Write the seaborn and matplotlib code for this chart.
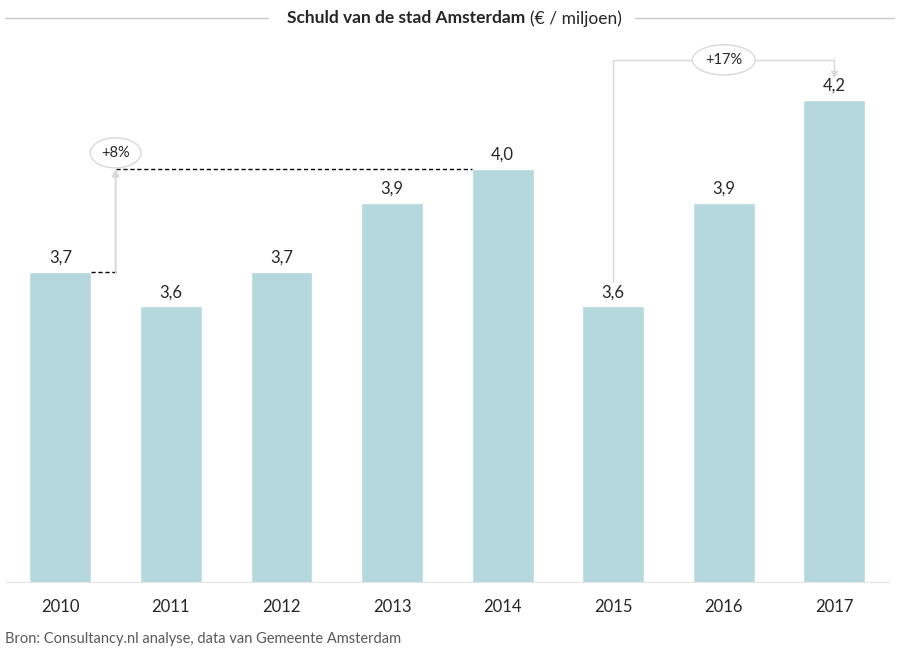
import numpy as np
import pandas as pd
import seaborn as sns
import matplotlib.pyplot as plt
from matplotlib.lines import Line2D

years = ["2010", "2011", "2012", "2013", "2014", "2015", "2016", "2017"]
schuld = [3.7, 3.6, 3.7, 3.9, 4.0, 3.6, 3.9, 4.2]
labels = ["3,7", "3,6", "3,7", "3,9", "4,0", "3,6", "3,9", "4,2"]

sns.set_style("white")
plt.rcParams['font.family'] = ['Lato', 'DejaVu Sans']

df = pd.DataFrame({"jaar": years, "schuld": schuld})

fig = plt.figure(figsize=(9, 6.54), dpi=100)
ax = fig.add_axes([0.0056, 0.110, 0.983, 0.829])
sns.barplot(x="jaar", y="schuld", data=df, color="#b4d8de", width=0.56,
            saturation=1, ax=ax)
ax.set_ylim(2.8, 4.374)
ax.set_xlim(-0.5, 7.5)
sns.despine(ax=ax, left=True)
ax.spines['bottom'].set_color("#e6e6e6")
ax.set_yticks([])
ax.set_xlabel("")
ax.set_ylabel("")
ax.tick_params(axis="x", length=0, pad=12, labelsize=12)

for i, (v, t) in enumerate(zip(schuld, labels)):
    ax.text(i, v + 0.018, t, ha="center", va="bottom", fontsize=12)

hw = 0.28
# +8% annotation
ax.plot([hw, 0.5], [3.7, 3.7], color="black", ls="--", lw=1, dashes=(3, 2))
ax.plot([0.5, 4 - hw], [4.0, 4.0], color="black", ls="--", lw=1, dashes=(3, 2))
ax.annotate("", xy=(0.5, 4.0), xytext=(0.5, 3.7),
            arrowprops=dict(arrowstyle="-|>", color="#d9d9d9", lw=1.5,
                            shrinkA=0, shrinkB=0, mutation_scale=10))
ax.text(0.5, 4.046, "+8%", ha="center", va="center", fontsize=10.5,
        bbox=dict(boxstyle="ellipse,pad=0.25", fc="white", ec="#d9d9d9", lw=1))

# +17% annotation
ax.plot([5, 5, 7], [3.672, 4.316, 4.316], color="#d9d9d9", lw=1)
ax.annotate("", xy=(7, 4.262), xytext=(7, 4.316),
            arrowprops=dict(arrowstyle="-|>", color="#d9d9d9", lw=1,
                            shrinkA=0, shrinkB=0, mutation_scale=10))
ax.text(6.0, 4.316, "+17%", ha="center", va="center", fontsize=10.5,
        bbox=dict(boxstyle="ellipse,pad=0.25", fc="white", ec="#d9d9d9", lw=1))

# title with side rules
t1 = fig.text(0.319, 0.972, "Schuld van de stad Amsterdam ", ha="left", va="center",
              fontsize=12.5, fontweight="bold")
fig.canvas.draw()
bb = t1.get_window_extent()
x2 = bb.x1 / fig.bbox.width
fig.text(x2, 0.972, "(€ / miljoen)", ha="left", va="center", fontsize=12.5)
fig.add_artist(Line2D([0.0056, 0.298], [0.972, 0.972], color="#c8c8c8", lw=1))
fig.add_artist(Line2D([0.705, 0.993], [0.972, 0.972], color="#c8c8c8", lw=1))

fig.text(0.0056, 0.012, "Bron: Consultancy.nl analyse, data van Gemeente Amsterdam",
         ha="left", va="bottom", fontsize=10.5, color="#595959")

fig.savefig("out.png", dpi=100)
